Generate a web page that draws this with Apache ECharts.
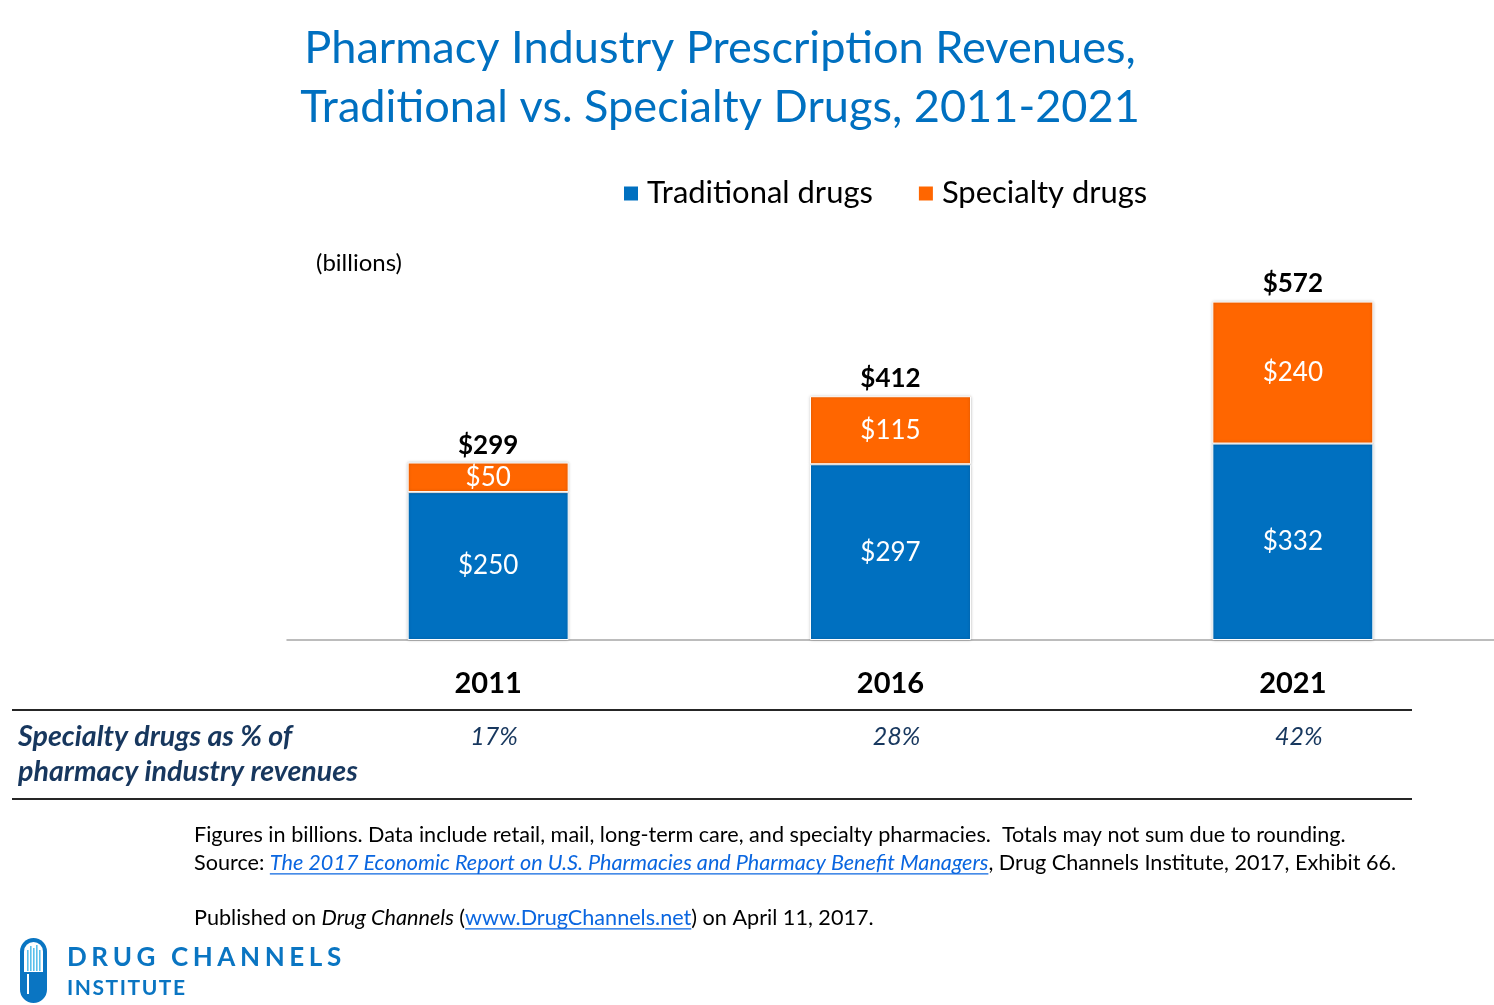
<!DOCTYPE html>
<html><head><meta charset="utf-8">
<script src="https://cdn.jsdelivr.net/npm/echarts@6/dist/echarts.min.js"></script>
<style>html,body{margin:0;padding:0;background:#fff}#c{width:1494px;height:1005px}</style>
</head><body><div id="c"></div>
<script>
// ---- data ----
const categories = ['2011', '2016', '2021'];
const traditional = [250, 297, 332];
const specialty = [50, 115, 240];
const totals = [299, 412, 572];
const specialtyShare = [17, 28, 42];
const seriesNames = ['Traditional drugs', 'Specialty drugs'];

// ---- texts ----
const titleLines = ['Pharmacy Industry Prescription Revenues,', 'Traditional vs. Specialty Drugs, 2011-2021'];
const unitText = '(billions)';
const rowLabel = ['Specialty drugs as % of', 'pharmacy industry revenues'];
const note1 = 'Figures in billions. Data include retail, mail, long-term care, and specialty pharmacies.  Totals may not sum due to rounding.';
const sourceParts = [['Source: ', 'n'], ['The 2017 Economic Report on U.S. Pharmacies and Pharmacy Benefit Managers', 'link-i'], [', Drug Channels Institute, 2017, Exhibit 66.', 'n']];
const pubParts = [['Published on ', 'n'], ['Drug Channels', 'i'], [' (', 'n'], ['www.DrugChannels.net', 'link'], [') on April 11, 2017.', 'n']];

const FONT = 'Lato';
const BLUE = '#0070C0', ORANGE = '#FF6600', NAVY = '#17375E', LINK = '#0A66E0';
const ctx = document.createElement('canvas').getContext('2d');
function measure(text, size, weight, style) {
  ctx.font = (style || 'normal') + ' ' + (weight || 'normal') + ' ' + size + 'px ' + FONT;
  return ctx.measureText(text).width;
}
function fit(text, target, weight, style) { return 100 * target / measure(text, 100, weight, style); }

const chart = echarts.init(document.getElementById('c'));

const titleSize = Math.min(fit(titleLines[0], 854), fit(titleLines[1], 840));
const legendSize = fit('Traditional drugs', 226);
const noteSize = fit(note1, 1152);
const rowSize = fit(rowLabel[1], 340, 'bold', 'italic');

function txt(text, x, y, size, opts) {
  opts = opts || {};
  return {
    type: 'text', x: x, y: y, silent: true,
    style: {
      text: text, fill: opts.fill || '#000',
      font: (opts.style || 'normal') + ' ' + (opts.weight || 'normal') + ' ' + size + 'px ' + FONT,
      align: opts.align || 'left', verticalAlign: 'middle',
      textAlign: opts.align || 'left', textVerticalAlign: 'middle'
    }
  };
}

function segmented(parts, x0, y, size) {
  const els = [];
  let x = x0;
  parts.forEach(function (p) {
    const isLink = p[1].indexOf('link') === 0;
    const st = (p[1] === 'i' || p[1] === 'link-i') ? 'italic' : 'normal';
    const w = measure(p[0], size, 'normal', st);
    els.push(txt(p[0], x, y, size, { style: st, fill: isLink ? LINK : '#000' }));
    if (isLink) {
      els.push({ type: 'line', silent: true, shape: { x1: x, y1: y + size * 0.5, x2: x + w, y2: y + size * 0.5 }, style: { stroke: LINK, lineWidth: 1.2 } });
    }
    x += w;
  });
  return els;
}

function spaced(text, x0, y, size, target, color) {
  const w = measure(text, size, 'bold');
  const gap = (target - w) / (text.length - 1);
  const els = [];
  let x = x0;
  for (const ch of text) {
    els.push(txt(ch, x, y, size, { weight: 'bold', fill: color }));
    x += measure(ch, size, 'bold') + gap;
  }
  return els;
}

const labelFont = { fontFamily: FONT, fontSize: 26 };
const money = function (p) { return '$' + p.value; };
const option = {
  animation: false,
  backgroundColor: '#fff',
  grid: { left: 287, right: 0, top: 285, bottom: 365 },
  legend: {
    data: seriesNames, left: 617, top: 173, icon: 'rect', itemWidth: 16, itemHeight: 16, itemGap: 44,
    textStyle: { fontFamily: FONT, fontSize: legendSize, color: '#000', padding: [0, 0, 0, 3] }
  },
  xAxis: {
    type: 'category', data: categories,
    axisLine: { lineStyle: { color: '#A6A6A6', width: 1.5 } },
    axisTick: { show: false },
    axisLabel: { fontFamily: FONT, fontSize: 29, fontWeight: 'bold', color: '#000', margin: 29 }
  },
  yAxis: { type: 'value', min: 0, max: 600, show: false, splitLine: { show: false } },
  series: [
    {
      name: seriesNames[0], type: 'bar', stack: 'rev', data: traditional, barWidth: 161,
      itemStyle: { color: BLUE, borderColor: '#fff', borderWidth: 1, shadowBlur: 3, shadowColor: 'rgba(0,0,0,0.25)' },
      label: Object.assign({ show: true, position: 'inside', color: '#fff', formatter: money }, labelFont)
    },
    {
      name: seriesNames[1], type: 'bar', stack: 'rev', data: specialty, barWidth: 161,
      itemStyle: { color: ORANGE, borderColor: '#fff', borderWidth: 1, shadowBlur: 3, shadowColor: 'rgba(0,0,0,0.25)' },
      label: Object.assign({ show: true, position: 'inside', color: '#fff', formatter: money }, labelFont)
    },
    {
      name: 'Total', type: 'line', data: totals, symbol: 'circle', symbolSize: 1, showSymbol: true,
      itemStyle: { color: 'rgba(0,0,0,0)' },
      lineStyle: { width: 0, color: 'rgba(0,0,0,0)' },
      label: Object.assign({ show: true, position: 'top', distance: 4, color: '#000', fontWeight: 'bold', formatter: money }, labelFont),
      z: 10
    }
  ]
};
chart.setOption(option);

const g = [];
g.push(txt(titleLines[0], 720, 48, titleSize, { align: 'center', fill: BLUE }));
g.push(txt(titleLines[1], 720, 107, titleSize, { align: 'center', fill: BLUE }));
g.push(txt(unitText, 316, 263, 24));
// table lines
g.push({ type: 'line', silent: true, shape: { x1: 12, y1: 710, x2: 1412, y2: 710 }, style: { stroke: '#262626', lineWidth: 2 } });
g.push({ type: 'line', silent: true, shape: { x1: 12, y1: 799, x2: 1412, y2: 799 }, style: { stroke: '#262626', lineWidth: 2 } });
g.push(txt(rowLabel[0], 18, 737, rowSize, { weight: 'bold', style: 'italic', fill: NAVY }));
g.push(txt(rowLabel[1], 18, 772, rowSize, { weight: 'bold', style: 'italic', fill: NAVY }));
categories.forEach(function (c, i) {
  const x = chart.convertToPixel({ xAxisIndex: 0 }, c);
  g.push(txt(specialtyShare[i] + '%', x + 6, 737, 25, { align: 'center', style: 'italic', fill: NAVY }));
});
// notes
g.push(txt(note1, 194, 835, noteSize));
segmented(sourceParts, 194, 863, noteSize).forEach(function (e) { g.push(e); });
segmented(pubParts, 194, 918, noteSize).forEach(function (e) { g.push(e); });
// logo
const pill = { type: 'group', x: 20, y: 938, silent: true, children: [
  { type: 'rect', shape: { x: 0, y: 0, width: 27, height: 65, r: 13.5 }, style: { fill: '#0A75C2' } },
  { type: 'rect', shape: { x: 4, y: 4, width: 19, height: 30, r: [9.5, 9.5, 0, 0] }, style: { fill: '#fff' } },
  { type: 'rect', shape: { x: 7, y: 36, width: 2, height: 20 }, style: { fill: '#fff' } }
] };
[[7, 12], [10, 8], [13, 10], [16, 7], [19, 12]].forEach(function (b) {
  pill.children.push({ type: 'rect', shape: { x: b[0], y: b[1], width: 1.6, height: 33 - b[1] }, style: { fill: '#5BC0EB' } });
});
g.push(pill);
spaced('DRUG CHANNELS', 67, 958, 26, 274, '#0A75C2').forEach(function (e) { g.push(e); });
spaced('INSTITUTE', 67, 988, 21, 118, '#0A75C2').forEach(function (e) { g.push(e); });

chart.setOption({ graphic: g });
</script>
</body></html>
